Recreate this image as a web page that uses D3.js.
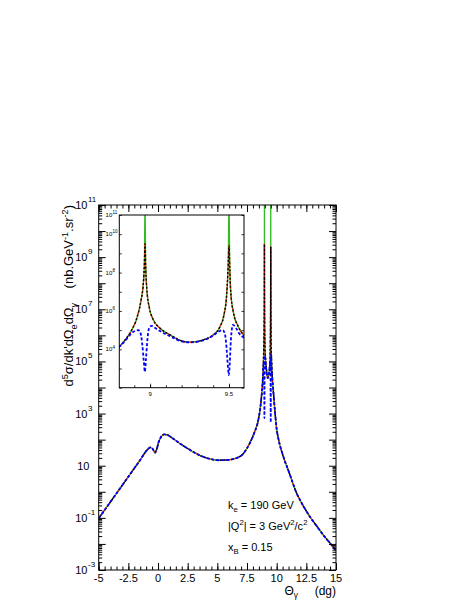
<!DOCTYPE html>
<html><head><meta charset="utf-8">
<script src="https://cdn.jsdelivr.net/npm/d3@7"></script>
<style>
html,body{margin:0;padding:0;background:#fff;}
svg{display:block;font-family:"Liberation Sans",Arial,Helvetica,sans-serif;}
text{white-space:pre;}
</style></head><body>
<svg id="c" width="468" height="605"></svg>
<script>
// ---------------- data (theta in dg, cross section as log10 value) ----------------
const thetaLeft = [-5,-4,-3,-2,-1.5,-1.1,-0.8,-0.65,-0.5,-0.35,-0.25,-0.12,0.05,0.25,0.5,0.8,1.2,1.85,2.5,3.5,4.3,5.1,5.8,6.6,7.2,7.75,8.1,8.45,8.6,8.74];
const logLeft   = [-1.02,-0.38,0.26,0.90,1.22,1.50,1.66,1.70,1.67,1.57,1.50,1.62,1.90,2.10,2.20,2.18,2.06,1.85,1.66,1.40,1.27,1.21,1.22,1.29,1.47,1.88,2.25,2.75,3.15,3.75];

const thetaPeak    = [8.806,8.842,8.884,8.916,8.941,8.958,8.964,8.968,8.972,8.979,8.996,9.021,9.063,9.127,9.19,9.253,9.337,9.40,9.443,9.468,9.485,9.495,9.50,9.505,9.511,9.527,9.559,9.595];
const logPeakTotal = [4.14,4.49,5.01,5.62,6.48,7.52,8.45,9.50,8.30,7.18,6.14,5.53,5.10,4.75,4.47,4.37,4.49,4.75,5.18,5.79,6.83,8.39,9.40,8.20,7.00,5.96,5.18,4.72];
const logPeakGreen = [4.14,4.49,5.01,5.62,6.48,7.52,8.45,12.0,8.30,7.18,6.14,5.53,5.10,4.75,4.47,4.37,4.49,4.75,5.18,5.79,6.83,8.39,12.0,8.20,7.00,5.96,5.18,4.72];

const thetaPeakBlue = [8.806,8.842,8.884,8.905,8.925,8.938,8.950,8.960,8.967,8.974,8.984,8.996,9.010,9.030,9.063,9.127,9.19,9.253,9.337,9.40,9.44,9.46,9.474,9.487,9.494,9.499,9.505,9.512,9.525,9.545,9.565,9.595];
const logPeakBlue   = [4.14,4.45,4.85,4.96,5.00,4.88,4.30,3.40,2.83,3.50,4.60,5.15,5.22,5.12,4.95,4.68,4.44,4.36,4.47,4.72,4.95,5.00,4.80,3.80,3.00,2.66,3.30,4.50,5.27,5.10,4.82,4.60];

const thetaRight = [9.65,9.72,9.86,10.0,10.14,10.56,11.0,11.69,12.25,12.81,13.4,13.93,14.5,15];
const logRight   = [4.25,3.85,3.05,2.40,2.05,1.35,0.80,-0.06,-0.55,-0.96,-1.33,-1.66,-1.97,-2.26];

const xTickLabels = [-5,-2.5,0,2.5,5,7.5,10,12.5,15];
const yLabelExp = [11,9,7,5,3,1,-1,-3];
const insetXTickLabels = [9, 9.5];
const insetXMinor = [8.9,9.0,9.1,9.2,9.3,9.4,9.5];
const insetYLabelExp = [11,10,8,6,4];

const annotationLines = [
  [["k",""],["e","sub"],[" = 190 GeV",""]],
  [["|Q",""],["2","sup"],["| = 3 GeV",""],["2","sup"],["/c",""],["2","sup"]],
  [["x",""],["B","sub"],[" = 0.15",""]]
];
const yTitle = [["d",""],["5","sup"],["σ/dk'dΩ",""],["e","sub"],["dΩ",""],["γ","sub"],["    (nb.GeV",""],["-1","sup"],[".sr",""],["-2","sup"],[")",""]];
const xTitle = [["Θ",""],["γ","sub"],["     (dg)",""]];

// ---------------- build series ----------------
const zip = (a,b)=>a.map((v,i)=>[v,b[i]]);
const thetaAll = thetaLeft.concat(thetaPeak, thetaRight);
const seriesTotal = zip(thetaAll, logLeft.concat(logPeakTotal, logRight));
const seriesGreen = zip(thetaAll, logLeft.concat(logPeakGreen, logRight));
const seriesBlue  = zip(thetaLeft.concat(thetaPeakBlue, thetaRight), logLeft.concat(logPeakBlue, logRight));

const svg = d3.select("#c");

function rich(g, x, y, segs, size, anchor){
  const t = g.append("text").attr("x",x).attr("y",y).attr("font-size",size).attr("text-anchor",anchor||"start").attr("fill","#000");
  let cur = 0;
  segs.forEach(([txt,kind])=>{
    const sp = t.append("tspan").text(txt);
    const target = kind==="sup" ? -0.42*size : kind==="sub" ? 0.28*size : 0;
    if (target-cur !== 0) sp.attr("dy", target-cur);
    cur = target;
    if (kind) sp.attr("font-size", size*0.7);
  });
  return t;
}

const styles = [
  {data: seriesGreen, stroke:"#33bb22", width:1.3, dash:null},
  {data: seriesTotal, stroke:"#ff2200", width:1.4, dash:"1.5,1.5"},
  {data: seriesTotal, stroke:"#000000", width:1.4, dash:"2,2", offset:1.5},
  {data: seriesBlue,  stroke:"#0000ff", width:1.8, dash:"3,2"}
];

function drawPanel(g, x, y, id){
  g.append("clipPath").attr("id",id).append("rect")
    .attr("x",x.range()[0]).attr("y",y.range()[1])
    .attr("width",x.range()[1]-x.range()[0]).attr("height",y.range()[0]-y.range()[1]);
  const line = d3.line().x(d=>x(d[0])).y(d=>y(Math.pow(10,d[1]))).curve(d3.curveMonotoneX);
  const cg = g.append("g").attr("clip-path",`url(#${id})`);
  styles.forEach(s=>{
    const p = cg.append("path").attr("d",line(s.data)).attr("fill","none")
      .attr("stroke",s.stroke).attr("stroke-width",s.width);
    if (s.dash) p.attr("stroke-dasharray",s.dash);
    if (s.offset) p.attr("stroke-dashoffset",s.offset);
  });
}

// ---------------- main plot ----------------
const L=98.7, R=336, T=205, B=570;
const x = d3.scaleLinear().domain([-5,15]).range([L,R]);
const y = d3.scaleLog().domain([1e-3,1e11]).range([B,T]);

const main = svg.append("g");
drawPanel(main, x, y, "clipMain");

// frame
main.append("rect").attr("x",L).attr("y",T).attr("width",R-L).attr("height",B-T)
  .attr("fill","none").attr("stroke","#000").attr("stroke-width",1);

const xMinor = d3.range(-5,15.001,0.5);
const yAll = y.ticks(20);
const yMajor = yAll.filter(v=>Math.abs(Math.log10(v)-Math.round(Math.log10(v)))<1e-9);
const yMinor = yAll.filter(v=>!yMajor.includes(v));

function tickAxis(gen, scale, vals, size, tr){
  main.append("g").attr("transform",tr)
    .call(gen(scale).tickValues(vals).tickSize(size).tickFormat(""))
    .call(a=>{a.select(".domain").remove(); a.selectAll("line").attr("stroke","#000").attr("stroke-width",1);});
}
tickAxis(d3.axisBottom, x, xMinor, -3.5, `translate(0,${B})`);
tickAxis(d3.axisBottom, x, xTickLabels, -7, `translate(0,${B})`);
tickAxis(d3.axisTop, x, xMinor, -3.5, `translate(0,${T})`);
tickAxis(d3.axisTop, x, xTickLabels, -7, `translate(0,${T})`);
tickAxis(d3.axisLeft, y, yMinor, -3.5, `translate(${L},0)`);
tickAxis(d3.axisLeft, y, yMajor, -7, `translate(${L},0)`);
tickAxis(d3.axisRight, y, yMinor, -3.5, `translate(${R},0)`);
tickAxis(d3.axisRight, y, yMajor, -7, `translate(${R},0)`);

// x tick labels
main.append("g").selectAll("text").data(xTickLabels).join("text")
  .attr("x",d=>x(d)).attr("y",582).attr("text-anchor","middle").attr("font-size",11)
  .text(d=>String(d));

// y tick labels
yLabelExp.forEach(e=>{
  const yy = y(Math.pow(10,e));
  if (e===1){
    main.append("text").attr("x",89.5).attr("y",yy+4).attr("text-anchor","end").attr("font-size",11).text("10");
  } else {
    main.append("text").attr("x",87.5).attr("y",yy+4).attr("text-anchor","end").attr("font-size",11).text("10");
    main.append("text").attr("x",88).attr("y",yy-3).attr("font-size",8).text(String(e));
  }
});

// titles
rich(main.append("g").attr("transform","translate(73,205) rotate(-90)"), 0, 0, yTitle, 13, "end");
rich(main, 336, 595, xTitle, 12, "end");

// annotations
[508.5, 529.5, 551].forEach((yy,i)=> rich(main, 228, yy, annotationLines[i], 11, "start"));

// ---------------- inset ----------------
const iL=119.3, iR=244, iT=215, iB=387.7;
const xi = d3.scaleLinear().domain([8.805,9.595]).range([iL,iR]);
const yi = d3.scaleLog().domain([1e2,1e11]).range([iB,iT]);
const inset = svg.append("g");
inset.append("rect").attr("x",iL).attr("y",iT).attr("width",iR-iL).attr("height",iB-iT).attr("fill","#fff");
drawPanel(inset, xi, yi, "clipInset");
inset.append("rect").attr("x",iL).attr("y",iT).attr("width",iR-iL).attr("height",iB-iT)
  .attr("fill","none").attr("stroke","#000").attr("stroke-width",1);
const yiMajor = yi.ticks(20).filter(v=>Math.abs(Math.log10(v)-Math.round(Math.log10(v)))<1e-9);
function itick(gen, scale, vals, size, tr){
  inset.append("g").attr("transform",tr)
    .call(gen(scale).tickValues(vals).tickSize(size).tickFormat(""))
    .call(a=>{a.select(".domain").remove(); a.selectAll("line").attr("stroke","#000").attr("stroke-width",0.8);});
}
itick(d3.axisBottom, xi, insetXMinor, -2.5, `translate(0,${iB})`);
itick(d3.axisBottom, xi, insetXTickLabels, -4, `translate(0,${iB})`);
itick(d3.axisLeft, yi, yiMajor, -2.5, `translate(${iL},0)`);
itick(d3.axisRight, yi, yiMajor, -2.5, `translate(${iR},0)`);
inset.append("g").selectAll("text").data(insetXTickLabels).join("text")
  .attr("x",d=>xi(d)).attr("y",396).attr("text-anchor","middle").attr("font-size",6)
  .text(d=>String(d));
insetYLabelExp.forEach(e=>{
  const yy = yi(Math.pow(10,e));
  inset.append("text").attr("x",112.3).attr("y",yy+2).attr("text-anchor","end").attr("font-size",6).text("10");
  inset.append("text").attr("x",112.6).attr("y",yy-0.8).attr("font-size",4.5).text(String(e));
});
</script>
</body></html>
